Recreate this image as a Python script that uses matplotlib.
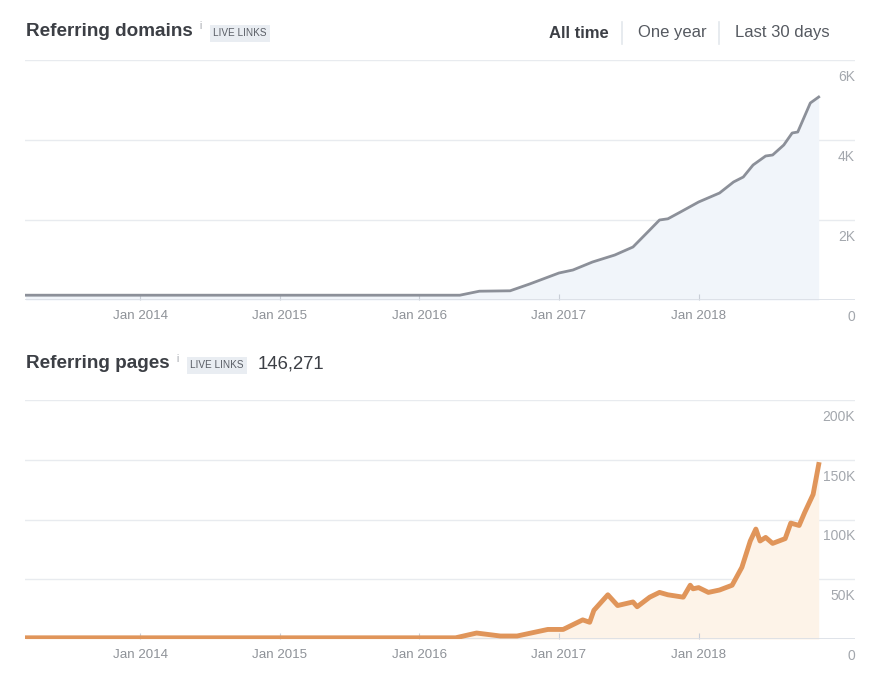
import matplotlib
matplotlib.use("Agg")
import matplotlib.pyplot as plt
import matplotlib.transforms as mtransforms

plt.rcParams['font.family'] = ['Liberation Sans', 'DejaVu Sans']

# ---- data (decimal years) ----
domains_t = [2013.18, 2016.29, 2016.43, 2016.65, 2016.79, 2017.0, 2017.1, 2017.24, 2017.4,
             2017.53, 2017.65, 2017.72, 2017.78, 2017.87, 2018.0, 2018.15, 2018.25, 2018.32,
             2018.39, 2018.48, 2018.53, 2018.61, 2018.67, 2018.71, 2018.80, 2018.86]
domains_v = [120, 120, 220, 230, 400, 675, 750, 950, 1125,
             1325, 1750, 2000, 2030, 2200, 2450, 2675, 2950, 3075,
             3375, 3600, 3625, 3875, 4175, 4200, 4925, 5075]

pages_t = [2013.18, 2016.26, 2016.41, 2016.58, 2016.70, 2016.92, 2017.03, 2017.17, 2017.22,
           2017.25, 2017.35, 2017.42, 2017.53, 2017.56, 2017.65, 2017.72, 2017.78, 2017.89,
           2017.94, 2017.96, 2018.0, 2018.07, 2018.15, 2018.24, 2018.31, 2018.37, 2018.41,
           2018.44, 2018.48, 2018.53, 2018.62, 2018.66, 2018.72, 2018.76, 2018.82, 2018.86]
pages_v = [1000, 1000, 5000, 2500, 2500, 8000, 8000, 16000, 14000,
           24000, 37000, 28000, 31000, 27000, 35000, 39000, 37000, 35000,
           45000, 42000, 43000, 39000, 41000, 45000, 60000, 82000, 92000,
           82000, 85000, 80000, 84000, 97000, 95000, 106000, 121000, 146000]

x_ticks = [2014, 2015, 2016, 2017, 2018]
x_tick_labels = ['Jan 2014', 'Jan 2015', 'Jan 2016', 'Jan 2017', 'Jan 2018']
dom_yticks = [0, 2000, 4000, 6000]
dom_ylabels = ['0', '2K', '4K', '6K']
pag_yticks = [0, 50000, 100000, 150000, 200000]
pag_ylabels = ['0', '50K', '100K', '150K', '200K']

W, H = 880, 690
fig = plt.figure(figsize=(W / 100, H / 100), dpi=100)
fig.patch.set_facecolor('white')

XMIN, XMAX = 2013.176, 2019.12

def px_axes(x0, y_top, x1, y_bot):
    return fig.add_axes([x0 / W, 1 - y_bot / H, (x1 - x0) / W, (y_bot - y_top) / H])

def style(ax, yticks, ylabels, ymax):
    ax.set_xlim(XMIN, XMAX)
    ax.set_ylim(0, ymax)
    for s in ax.spines.values():
        s.set_visible(False)
    ax.set_yticks(yticks)
    ax.tick_params(axis='y', left=False, labelleft=False)
    for v in yticks[1:]:
        ax.axhline(v, color='#E8EBEF', lw=1, zorder=0)
    ax.axhline(0, color='#D9DEE5', lw=1.2, zorder=3)
    ax.set_xticks(x_ticks)
    ax.set_xticklabels(x_tick_labels, fontsize=9.6, color='#8E9298')
    ax.tick_params(axis='x', direction='in', length=4.5, width=0.8, color='#C9CED6', pad=7)
    trans = mtransforms.blended_transform_factory(ax.transAxes, ax.transData)
    for v, lab in zip(yticks, ylabels):
        ax.annotate(lab, xy=(1.0, v), xycoords=trans, xytext=(0, -17),
                    textcoords='offset pixels', ha='right', va='center',
                    fontsize=10, color='#A3A7AD', annotation_clip=False)

# ---- top chart ----
ax1 = px_axes(25, 60, 855, 300)
style(ax1, dom_yticks, dom_ylabels, 6000)
ax1.fill_between(domains_t, domains_v, 0, color='#F1F5FA', lw=0, zorder=1)
ax1.plot(domains_t, domains_v, color='#8C9099', lw=2, zorder=4, solid_joinstyle='round')

# ---- bottom chart ----
ax2 = px_axes(25, 400, 855, 639)
style(ax2, pag_yticks, pag_ylabels, 200000)
ax2.fill_between(pages_t, pages_v, 0, color='#FDF3E8', lw=0, zorder=1)
ax2.plot(pages_t, pages_v, color='#E0955A', lw=3.5, zorder=4, solid_joinstyle='round')

# ---- header texts ----
def ftext(x, y, s, **kw):
    fig.text(x / W, 1 - y / H, s, **kw)

ftext(26, 31, 'Referring domains', fontsize=13.6, fontweight='bold', color='#3C3F45', va='center')
ftext(199, 26, 'i', fontsize=7, color='#A0A4AA', va='center')
ftext(213, 33, 'LIVE LINKS', fontsize=7.2, color='#5A5E66', va='center',
      bbox=dict(boxstyle='square,pad=0.35', fc='#E9EDF2', ec='none'))

ftext(549, 33, 'All time', fontsize=12, fontweight='bold', color='#3C3F45', va='center')
ftext(638, 33, 'One year', fontsize=12, color='#555960', va='center')
ftext(735, 33, 'Last 30 days', fontsize=12, color='#555960', va='center')
for xs in (622, 719):
    fig.add_artist(plt.Line2D([xs / W, xs / W], [1 - 22 / H, 1 - 44 / H], color='#E3E7EC', lw=1.2))

ftext(26, 364, 'Referring pages', fontsize=13.6, fontweight='bold', color='#3C3F45', va='center')
ftext(176, 359, 'i', fontsize=7, color='#A0A4AA', va='center')
ftext(190, 365, 'LIVE LINKS', fontsize=7.2, color='#5A5E66', va='center',
      bbox=dict(boxstyle='square,pad=0.35', fc='#E9EDF2', ec='none'))
ftext(258, 364, '146,271', fontsize=13.3, color='#3C3F45', va='center')

fig.savefig('out.png', dpi=100, facecolor='white')
